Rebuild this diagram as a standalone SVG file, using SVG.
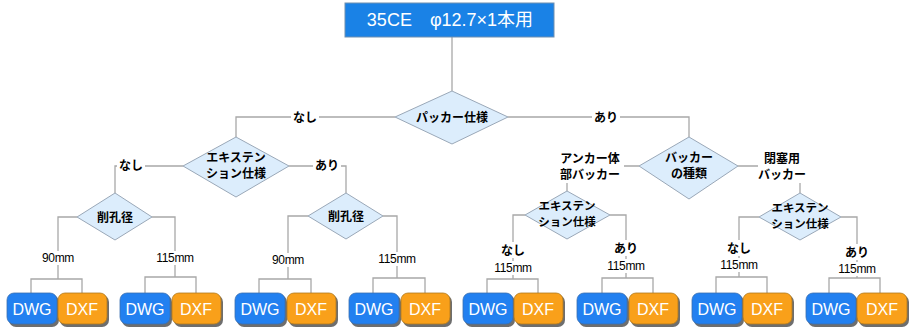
<svg xmlns="http://www.w3.org/2000/svg" width="911" height="331" viewBox="0 0 911 331">
<style>
.ln{fill:none;stroke:#a8a8a8;stroke-width:1.3}
.dia{fill:#dcedfc;stroke:#9aa8b8;stroke-width:1}
.t{font-family:"Noto Sans CJK JP","Liberation Sans",sans-serif;font-size:12px;font-weight:bold;fill:#000;text-anchor:middle}
.s{font-size:11.5px}
.m{font-family:"Liberation Sans",sans-serif;font-size:12px;fill:#000;text-anchor:middle;letter-spacing:-0.3px}
.bg{fill:#fff}
.sh{fill:#6e6e6e}
.dwg{fill:#2280f0;stroke:#3a6fb0;stroke-width:0.8}
.dxf{fill:#f9a01a;stroke:#b07a20;stroke-width:0.8}
.bt{font-family:"Liberation Sans",sans-serif;font-size:16px;fill:#fff;text-anchor:middle}
</style>
<rect width="911" height="331" fill="#fff"/>
<g id="connectors">
<path class="ln" d="M452,37V91"/>
<path class="ln" d="M395,117H236V137"/>
<path class="ln" d="M508,117H689V137"/>
<path class="ln" d="M183,166H115V193"/>
<path class="ln" d="M289,166H346V193"/>
<path class="ln" d="M639,166H567V191"/>
<path class="ln" d="M738,166H800V193"/>
<path class="ln" d="M77,217H58V279M31,293V279H82V293"/>
<path class="ln" d="M152,217H175V277M145,293V277H196V293"/>
<path class="ln" d="M308,216H288V279M259,293V279H311V293"/>
<path class="ln" d="M383,216H397V278M373,293V278H425V293"/>
<path class="ln" d="M525,215H513V279M487,293V279H538V293"/>
<path class="ln" d="M610,215H626V278M602,293V278H653V293"/>
<path class="ln" d="M759,217H739V277M716,293V277H767V293"/>
<path class="ln" d="M841,217H857V278M829,293V278H880V293"/>
</g>
<g id="labels">
<rect class="bg" x="291" y="109" width="28" height="16"/><text class="t" x="305" y="122">なし</text>
<rect class="bg" x="592" y="109" width="28" height="16"/><text class="t" x="606" y="122">あり</text>
<rect class="bg" x="117" y="157" width="28" height="16"/><text class="t" x="131" y="170">なし</text>
<rect class="bg" x="313" y="157" width="28" height="16"/><text class="t" x="327" y="170">あり</text>
<rect class="bg" x="556" y="149" width="68" height="34"/><text class="t" x="590" y="163">アンカー体</text><text class="t" x="590" y="179">部バッカー</text>
<rect class="bg" x="758" y="149" width="50" height="34"/><text class="t" x="782" y="163">閉塞用</text><text class="t" x="782" y="179">バッカー</text>
<rect class="bg" x="38" y="251" width="40" height="14"/><text class="m" x="58" y="262">90mm</text>
<rect class="bg" x="152" y="251" width="46" height="14"/><text class="m" x="175" y="262">115mm</text>
<rect class="bg" x="268" y="253" width="40" height="14"/><text class="m" x="288" y="264">90mm</text>
<rect class="bg" x="374" y="252" width="46" height="14"/><text class="m" x="397" y="263">115mm</text>
<rect class="bg" x="499" y="242" width="28" height="16"/><text class="t" x="513" y="255">なし</text>
<rect class="bg" x="490" y="261" width="46" height="14"/><text class="m" x="513" y="272">115mm</text>
<rect class="bg" x="612" y="240" width="28" height="16"/><text class="t" x="626" y="253">あり</text>
<rect class="bg" x="603" y="259" width="46" height="14"/><text class="m" x="626" y="270">115mm</text>
<rect class="bg" x="725" y="240" width="28" height="16"/><text class="t" x="739" y="253">なし</text>
<rect class="bg" x="716" y="258" width="46" height="14"/><text class="m" x="739" y="269">115mm</text>
<rect class="bg" x="843" y="244" width="28" height="16"/><text class="t" x="857" y="257">あり</text>
<rect class="bg" x="834" y="262" width="46" height="14"/><text class="m" x="857" y="273">115mm</text>
</g>
<g id="title">
<rect x="345" y="3" width="209" height="34" fill="#1a82e6" stroke="#6f8fb0" stroke-width="1"/>
<text x="450" y="26" font-family="Liberation Sans,'Noto Sans CJK JP',sans-serif" font-size="18" fill="#fff" text-anchor="middle">35CE　φ12.7×1本用</text>
</g>
<g id="d-packer"><polygon class="dia" points="452,91 508,117 452,144 395,117"/><text class="t" x="452" y="122">パッカー仕様</text></g>
<g id="d-ext1"><polygon class="dia" points="236,137 289,166 236,197 183,166"/><text class="t" x="236" y="162">エキステン</text><text class="t" x="236" y="178">ション仕様</text></g>
<g id="d-type"><polygon class="dia" points="689,137 738,166 689,199 639,166"/><text class="t" x="689" y="162">バッカー</text><text class="t" x="689" y="178">の種類</text></g>
<g id="d-hole1"><polygon class="dia" points="115,193 152,217 115,240 77,217"/><text class="t" x="115" y="222">削孔径</text></g>
<g id="d-hole2"><polygon class="dia" points="346,193 383,216 346,239 308,216"/><text class="t" x="346" y="221">削孔径</text></g>
<g id="d-ext2"><polygon class="dia" points="567,191 610,215 567,239 525,215"/><text class="t s" x="567" y="210">エキステン</text><text class="t s" x="567" y="226">ション仕様</text></g>
<g id="d-ext3"><polygon class="dia" points="800,193 841,217 800,240 759,217"/><text class="t s" x="800" y="212">エキステン</text><text class="t s" x="800" y="228">ション仕様</text></g>
<g id="f1"><rect class="sh" x="9" y="295" width="50" height="32" rx="7"/><rect class="dwg" x="7" y="293" width="50" height="31" rx="7"/><text class="bt" x="32" y="315">DWG</text>
<rect class="sh" x="60" y="295" width="49" height="32" rx="7"/><rect class="dxf" x="58" y="293" width="49" height="31" rx="7"/><text class="bt" x="82" y="315">DXF</text></g>
<g id="f2"><rect class="sh" x="122" y="295" width="50" height="32" rx="7"/><rect class="dwg" x="120" y="293" width="50" height="31" rx="7"/><text class="bt" x="145" y="315">DWG</text>
<rect class="sh" x="174" y="295" width="49" height="32" rx="7"/><rect class="dxf" x="172" y="293" width="49" height="31" rx="7"/><text class="bt" x="196" y="315">DXF</text></g>
<g id="f3"><rect class="sh" x="237" y="295" width="50" height="32" rx="7"/><rect class="dwg" x="235" y="293" width="50" height="31" rx="7"/><text class="bt" x="260" y="315">DWG</text>
<rect class="sh" x="289" y="295" width="49" height="32" rx="7"/><rect class="dxf" x="287" y="293" width="49" height="31" rx="7"/><text class="bt" x="311" y="315">DXF</text></g>
<g id="f4"><rect class="sh" x="351" y="295" width="50" height="32" rx="7"/><rect class="dwg" x="349" y="293" width="50" height="31" rx="7"/><text class="bt" x="374" y="315">DWG</text>
<rect class="sh" x="403" y="295" width="49" height="32" rx="7"/><rect class="dxf" x="401" y="293" width="49" height="31" rx="7"/><text class="bt" x="425" y="315">DXF</text></g>
<g id="f5"><rect class="sh" x="465" y="295" width="50" height="32" rx="7"/><rect class="dwg" x="463" y="293" width="50" height="31" rx="7"/><text class="bt" x="488" y="315">DWG</text>
<rect class="sh" x="516" y="295" width="49" height="32" rx="7"/><rect class="dxf" x="514" y="293" width="49" height="31" rx="7"/><text class="bt" x="538" y="315">DXF</text></g>
<g id="f6"><rect class="sh" x="579" y="295" width="50" height="32" rx="7"/><rect class="dwg" x="577" y="293" width="50" height="31" rx="7"/><text class="bt" x="602" y="315">DWG</text>
<rect class="sh" x="631" y="295" width="49" height="32" rx="7"/><rect class="dxf" x="629" y="293" width="49" height="31" rx="7"/><text class="bt" x="653" y="315">DXF</text></g>
<g id="f7"><rect class="sh" x="694" y="295" width="50" height="32" rx="7"/><rect class="dwg" x="692" y="293" width="50" height="31" rx="7"/><text class="bt" x="717" y="315">DWG</text>
<rect class="sh" x="745" y="295" width="49" height="32" rx="7"/><rect class="dxf" x="743" y="293" width="49" height="31" rx="7"/><text class="bt" x="767" y="315">DXF</text></g>
<g id="f8"><rect class="sh" x="808" y="295" width="50" height="32" rx="7"/><rect class="dwg" x="806" y="293" width="50" height="31" rx="7"/><text class="bt" x="831" y="315">DWG</text>
<rect class="sh" x="859" y="295" width="50" height="32" rx="7"/><rect class="dxf" x="857" y="293" width="50" height="31" rx="7"/><text class="bt" x="882" y="315">DXF</text></g>
</svg>
